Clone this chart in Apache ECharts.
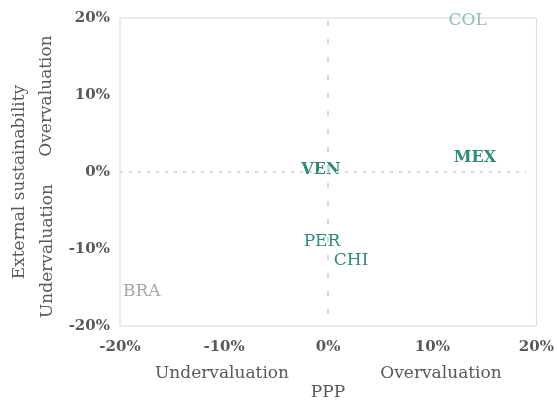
<!DOCTYPE html>
<html>
<head>
<meta charset="utf-8">
<script src="https://cdn.jsdelivr.net/npm/echarts@6/dist/echarts.min.js"></script>
<style>
  html, body { margin: 0; padding: 0; background: #fff; }
  #container { width: 557px; height: 402px; }
</style>
</head>
<body>
<div id="container"></div>
<script>
// country codes with PPP gap (x) and external sustainability gap (y), in %
var countries = ['COL', 'MEX', 'VEN', 'PER', 'CHI', 'BRA'];
var ppp_gap = [13.4, 14.1, -0.7, -0.6, 2.2, -17.9];
var ext_gap = [19.7, 1.8, 0.3, -9.1, -11.5, -15.5];
var label_colors = ['#8cc0b3', '#2e8b7c', '#2e8b7c', '#2e8b7c', '#2e8b7c', '#a6a6a6'];
var label_weights = ['normal', 'bold', 'bold', 'normal', 'normal', 'normal'];

var font = 'DejaVu Serif';
var titleFont = '17px "DejaVu Serif"';
var dom = document.getElementById('container');
var chart = echarts.init(dom, null, { renderer: 'canvas' });

var points = countries.map(function (c, i) {
    return {
        name: c,
        value: [ppp_gap[i], ext_gap[i]],
        label: {
            color: label_colors[i],
            fontWeight: label_weights[i],
            fontSize: label_weights[i] == 'bold' ? 16 : 17
        }
    };
});

var axisLabelStyle = {
    color: '#595959',
    fontFamily: font,
    fontWeight: 'bold',
    fontSize: 15,
    formatter: '{value}%'
};

function axisTitle(text, x, y, rotate) {
    return {
        type: 'text', x: x, y: y,
        rotation: rotate ? Math.PI / 2 : 0,
        style: { text: text, align: 'center', verticalAlign: 'middle', fill: '#595959', font: titleFont }
    };
}

var option = {
    animation: false,
    grid: {
        left: 120, right: 16, top: 18, bottom: 76,
        show: true, borderColor: '#d9d9d9', borderWidth: 1
    },
    xAxis: {
        type: 'value', min: -20, max: 20, interval: 10,
        axisLine: { show: false }, axisTick: { show: false },
        splitLine: { show: false },
        axisLabel: Object.assign({ margin: 14 }, axisLabelStyle)
    },
    yAxis: {
        type: 'value', min: -20, max: 20, interval: 10,
        axisLine: { show: false }, axisTick: { show: false },
        splitLine: { show: false },
        axisLabel: Object.assign({ margin: 10 }, axisLabelStyle)
    },
    series: [
        {
            type: 'scatter',
            symbolSize: 0,
            itemStyle: { opacity: 1 },
            data: points,
            label: {
                show: true,
                position: 'inside',
                formatter: '{b}',
                fontFamily: font,
                opacity: 1,
                textBorderWidth: 0,
                textBorderColor: 'transparent'
            },
            markLine: {
                silent: true,
                symbol: 'none',
                label: { show: false },
                data: [
                    [{ coord: [0, 19.6], lineStyle: { type: [5, 13], color: '#d9d9d9', width: 2 } },
                     { coord: [0, -19.2] }],
                    [{ coord: [-20, 0], lineStyle: { type: [3, 6], color: '#d9d9d9', width: 2 } },
                     { coord: [19, 0] }]
                ]
            }
        }
    ],
    graphic: [
        axisTitle('Undervaluation', 222, 374, false),
        axisTitle('Overvaluation', 441, 374, false),
        axisTitle('PPP', 328, 393, false),
        axisTitle('External sustainability', 20, 182, true),
        axisTitle('Overvaluation', 47, 96, true),
        axisTitle('Undervaluation', 48, 251, true)
    ]
};

chart.setOption(option);
window.addEventListener('resize', chart.resize);
</script>
</body>
</html>
